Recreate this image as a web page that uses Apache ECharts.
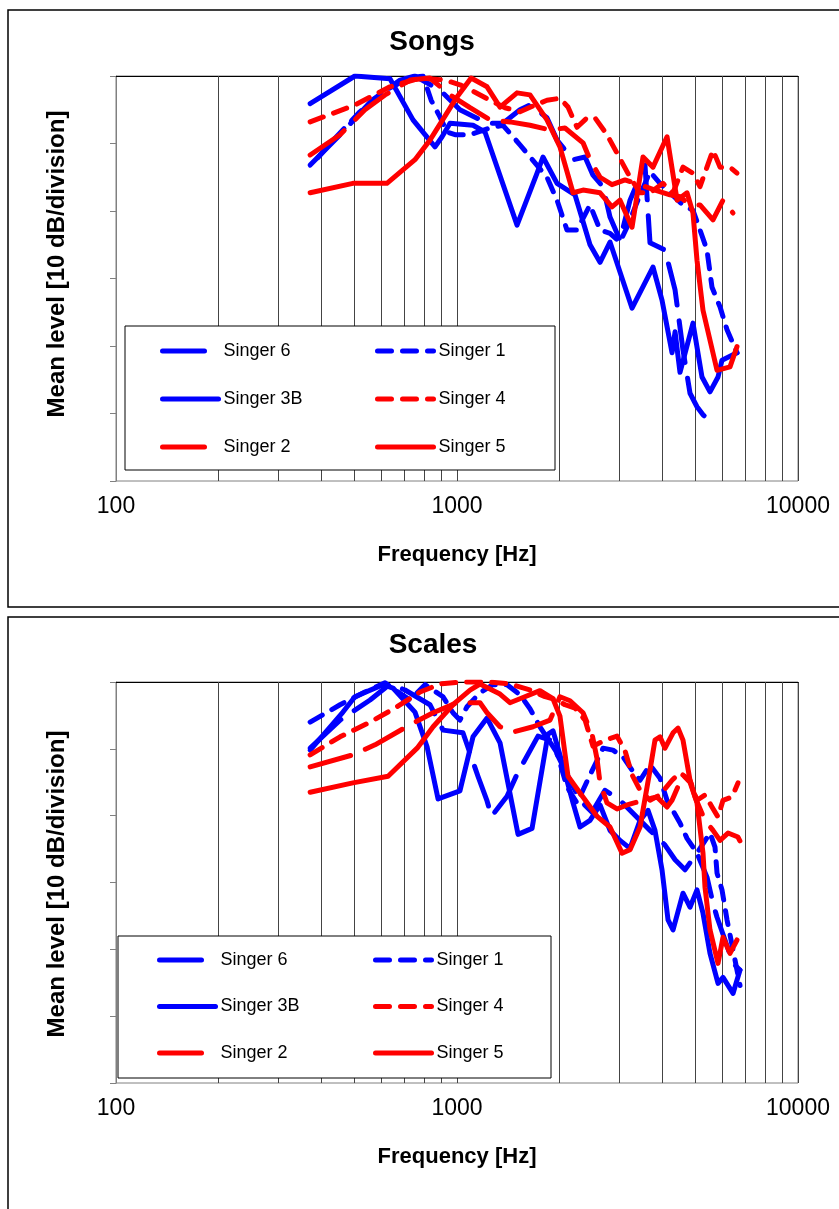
<!DOCTYPE html>
<html>
<head>
<meta charset="utf-8">
<script src="https://cdn.jsdelivr.net/npm/echarts@6/dist/echarts.min.js"></script>
<style>
  html, body { margin: 0; padding: 0; background: #fff; }
  #main { width: 839px; height: 1209px; }
</style>
</head>
<body>
<div id="main"></div>
<script>
// frequencies (Hz) and mean levels (dB, 0 = top of plot)

// --- Songs ---
var songs6Hz = [371,454,563,681,753,892,1020,1225,1364,1530,1637,1836,1965,2189,2374,2505,2681,2810,3006,3217,3559,3681,4074,4360,4600,4823,5056,5265,5633];
var songs6dB = [-13.2,-8.7,-3.6,-0.6,0,-2.1,-5.0,-7.0,-7.0,-5.0,-4.3,-6.2,-9.5,-12.4,-12.0,-14.7,-16.4,-20.9,-24.3,-18.4,-13.2,-24.7,-25.8,-31.7,-40.6,-47.0,-49.0,-50.2,-51.4];

var songs1Hz = [391,439,519,615,728,795,840,892,935,987,1092,1250,1364,1530,1836,1965,2101,2249,2455,2627,2810,3006,3152,3442,3681,3938,4272,4600,4921,5159,5409,5595,5906,6193,6624];
var songs1dB = [-12.1,-9.2,-5.3,-2.1,-0.3,0,-3.6,-6.1,-8.3,-8.7,-8.7,-7.7,-7.3,-10.2,-15.0,-18.4,-22.8,-22.8,-19.1,-22.8,-23.3,-24.6,-22.4,-17.6,-14.2,-15.9,-17.6,-19.1,-19.9,-22.8,-25.8,-31.3,-34.2,-37.6,-41.0];

var songs3BHz = [371,502,636,743,862,904,954,1114,1208,1500,1717,1787,1965,2218,2455,2627,2810,3261,3756,3992,4272,4360,4508,4921,5230,5520,5827,5986,6624];
var songs3BdB = [-4.1,0,-0.4,-6.5,-10.5,-9.0,-7.0,-7.3,-8.3,-22.1,-14.4,-12.0,-15.9,-17.6,-25.0,-27.6,-24.6,-34.4,-28.3,-33.2,-41.0,-37.9,-43.9,-36.6,-44.6,-46.8,-44.6,-42.1,-41.0];

var songs4Hz = [371,502,636,779,922,1020,1129,1250,1383,1530,1694,1836,2004,2116,2249,2406,2539,2754,2966,3217,3442,3681,4019,4301,4600,4921,5159,5633,5906,6318,6624];
var songs4dB = [-6.8,-4.3,-1.6,-0.3,-0.6,-1.3,-2.4,-3.6,-4.7,-5.3,-4.3,-3.6,-3.3,-4.6,-7.6,-6.2,-6.2,-8.7,-11.7,-15.0,-17.3,-17.3,-15.9,-17.3,-13.5,-14.4,-16.4,-11.0,-13.5,-13.5,-14.4];

var songs2Hz = [371,454,537,615,728,833,954,1092,1250,1430,1637,1874,2073,2342,2455,2627,2848,3110,3442,3807,4214,4508,4823,5159,5633,6027,6448];
var songs2dB = [-11.7,-8.7,-5.0,-2.8,-0.6,-0.3,-2.8,-4.7,-6.5,-6.8,-7.3,-8.0,-7.7,-9.9,-12.4,-15.0,-16.1,-15.4,-16.1,-16.9,-17.6,-17.9,-19.1,-19.1,-21.3,-18.4,-20.3];

var songs5Hz = [371,495,623,753,833,1000,1100,1225,1337,1500,1637,1836,2004,2189,2342,2627,2848,3006,3261,3512,3756,4130,4419,4726,4921,5056,5265,5788,6318,6624];
var songs5dB = [-17.3,-15.9,-15.9,-12.4,-9.5,-3.1,-0.3,-1.6,-4.6,-2.5,-2.8,-6.5,-10.5,-17.3,-16.9,-17.3,-19.4,-18.4,-22.4,-12.0,-13.5,-9.0,-18.4,-17.3,-20.3,-27.3,-34.7,-43.6,-43.1,-40.1];

// --- Scales ---
var scales6Hz = [371,454,556,636,704,833,910,1041,1152,1225,1262,1402,1500,1728,1874,2073,2295,2489,2716,3006,3681,4074,4360,4663,5056,5409,5633,5788,6109,6448,6760];
var scales6dB = [-9.9,-5.7,-2.7,-0.3,-1.2,-3.4,-7.2,-7.6,-14.1,-17.8,-20.1,-17.1,-13.8,-8.1,-8.7,-13.2,-17.7,-19.5,-16.2,-17.7,-22.2,-24.4,-26.6,-28.1,-25.6,-29.2,-33.1,-35.2,-38.6,-42.1,-43.1];

var scales1Hz = [371,454,537,615,658,728,806,910,973,1020,1070,1168,1275,1402,1530,1637,1751,1965,2101,2249,2455,2681,2867,3068,3261,3442,3681,3938,4130,4508,4726,5056,5520,5710,5788,5986,6193,6448,6760];
var scales1dB = [-6.0,-3.4,-1.5,-0.1,-1.2,-2.7,-0.4,-2.2,-4.6,-5.7,-3.7,-1.6,-0.4,-0.4,-1.9,-4.0,-6.7,-10.6,-15.7,-18.1,-13.9,-9.9,-10.2,-11.2,-13.2,-14.7,-12.4,-14.4,-17.7,-21.1,-23.4,-25.6,-22.6,-24.7,-28.6,-31.1,-35.6,-40.1,-45.4];

var scales3BHz = [371,463,502,607,649,753,817,880,1020,1114,1225,1337,1510,1660,1849,1912,2004,2189,2295,2455,2627,2810,3006,3217,3442,3632,3807,3992,4158,4301,4600,4823,5056,5265,5520,5827,6027,6448,6760];
var scales3BdB = [-10.2,-4.5,-2.2,-0.4,-0.9,-4.5,-9.7,-17.5,-16.3,-8.2,-5.4,-9.1,-22.8,-21.9,-7.8,-7.3,-10.9,-18.1,-21.7,-20.7,-18.4,-22.2,-23.7,-24.9,-20.7,-19.2,-22.2,-28.1,-35.6,-37.1,-31.6,-33.7,-31.1,-34.6,-40.6,-45.1,-44.2,-46.6,-43.1];

var scales4Hz = [371,454,556,658,779,892,1020,1250,1430,1637,1812,1965,2073,2218,2374,2505,2716,2946,3110,3261,3442,3681,3938,4272,4508,4823,5056,5337,5595,5827,6027,6405,6668];
var scales4dB = [-10.9,-8.2,-6.0,-3.9,-1.5,-0.3,0,0,-0.3,-1.2,-2.2,-2.7,-3.4,-3.9,-5.7,-9.6,-8.7,-8.1,-10.3,-13.9,-16.2,-17.7,-16.9,-14.7,-13.6,-14.7,-17.7,-16.9,-18.7,-20.2,-17.7,-17.2,-15.1];

var scales2Hz = [371,495,575,728,851,1000,1168,1225,1337,1460,1671,1874,2004,2145,2342,2489,2574,2627,2754,2946,3152,3512,3859,4130,4272,4600,4823,4988,5337,5633,5906,6234,6668,6853];
var scales2dB = [-12.7,-10.9,-9.4,-6.4,-4.6,-3.1,-3.1,-4.6,-6.7,-7.5,-6.7,-5.7,-2.2,-2.8,-4.6,-7.8,-11.5,-15.1,-18.1,-19.0,-18.4,-17.7,-17.2,-18.7,-17.7,-13.9,-15.0,-17.2,-20.7,-22.2,-23.7,-22.6,-23.2,-24.4];

var scales5Hz = [371,495,628,764,851,973,1092,1168,1337,1430,1530,1751,1912,2004,2116,2295,2574,2810,3048,3217,3442,3681,3807,3938,4074,4301,4449,4600,4823,5056,5265,5337,5520,5827,6027,6318,6624];
var scales5dB = [-16.5,-15.1,-14.1,-9.9,-6.7,-3.4,-1.2,-0.3,-1.8,-3.1,-2.5,-1.3,-2.5,-5.1,-14.1,-16.6,-20.1,-21.7,-25.6,-25.1,-21.7,-13.2,-8.7,-8.2,-9.9,-7.6,-6.9,-8.7,-14.7,-18.1,-25.6,-30.7,-37.1,-42.1,-38.2,-40.6,-38.6];

// vertical grid lines between decades
var gridHz = [200,300,400,500,600,700,800,900,2000,3000,4000,5000,6000,7000,8000,9000];
var xTicks = [100, 1000, 10000];

var FONT = '"Liberation Sans", Arial, sans-serif';
var BLUE = '#0000ff', RED = '#ff0000';

// line look of each singer (same in both panels)
var looks = {
  'Singer 6':  { color: BLUE, type: [42, 16] },
  'Singer 1':  { color: BLUE, type: [14, 11] },
  'Singer 3B': { color: BLUE, type: 'solid' },
  'Singer 4':  { color: RED,  type: [14, 11] },
  'Singer 2':  { color: RED,  type: [42, 16] },
  'Singer 5':  { color: RED,  type: 'solid' }
};

function pairs(hz, db) {
  return hz.map(function (f, i) { return [f, db[i]]; });
}

function line(name, idx, hz, db) {
  var l = looks[name];
  return {
    name: name,
    type: 'line',
    xAxisIndex: idx,
    yAxisIndex: idx,
    data: pairs(hz, db),
    symbol: 'none',
    z: 2,
    color: l.color,
    lineStyle: { color: l.color, width: 5, type: l.type, cap: 'round', join: 'round' }
  };
}

function gridLines(idx) {
  return {
    name: 'grid' + idx,
    type: 'line',
    xAxisIndex: idx,
    yAxisIndex: idx,
    data: [],
    silent: true,
    z: 1,
    markLine: {
      silent: true,
      z: 1,
      symbol: ['none', 'none'],
      label: { show: false },
      lineStyle: { color: '#444', width: 1, type: 'solid' },
      data: gridHz.map(function (f) { return { xAxis: f }; })
    }
  };
}

function xAxisFor(idx) {
  return {
    type: 'log',
    gridIndex: idx,
    logBase: 10,
    min: 100,
    max: 10000,
    axisLine: { lineStyle: { color: '#000', width: 1 } },
    axisTick: { show: false },
    axisLabel: {
      fontSize: 23, color: '#000', fontFamily: FONT, margin: 14,
      customValues: xTicks,
      formatter: function (v) { return String(Math.round(v)); }
    },
    splitLine: { show: true, lineStyle: { color: '#444', width: 1 } },
    name: 'Frequency [Hz]',
    nameLocation: 'middle',
    nameGap: 63,
    nameTextStyle: { fontSize: 22, fontWeight: 'bold', color: '#000', fontFamily: FONT }
  };
}

function yAxisFor(idx) {
  return {
    type: 'value',
    gridIndex: idx,
    min: -60,
    max: 0,
    interval: 10,
    axisLabel: { show: false },
    axisTick: { show: true, length: 6, lineStyle: { color: '#808080' } },
    axisLine: { show: true, lineStyle: { color: '#808080' } },
    splitLine: { show: false }
  };
}

function legendFor(names, left, top, gap) {
  return {
    data: names,
    orient: 'vertical',
    left: left,
    top: top,
    padding: 0,
    itemWidth: 56,
    itemHeight: 20,
    itemGap: gap,
    selectedMode: false,
    z: 5,
    // hide the default circle marker, keep just the line sample
    itemStyle: { opacity: 0, color: 'rgba(0,0,0,0)', borderWidth: 0 },
    lineStyle: { width: 5, cap: 'round' },
    textStyle: { fontSize: 18, color: '#000', fontFamily: FONT, lineHeight: 20 }
  };
}

function textEl(text, x, y, size, rot) {
  return {
    type: 'text', x: x, y: y, rotation: rot || 0, z: 5,
    style: { text: text, fontSize: size, fontWeight: 'bold', fontFamily: FONT, fill: '#000', align: 'center', verticalAlign: 'middle' }
  };
}

var chart = echarts.init(document.getElementById('main'));

var option = {
  animation: false,
  backgroundColor: '#fff',
  grid: [
    { left: 116, top: 76, width: 682, height: 405, show: true, borderColor: '#808080', borderWidth: 1, backgroundColor: 'transparent' },
    { left: 116, top: 682, width: 682, height: 401, show: true, borderColor: '#808080', borderWidth: 1, backgroundColor: 'transparent' }
  ],
  xAxis: [xAxisFor(0), xAxisFor(1)],
  yAxis: [yAxisFor(0), yAxisFor(1)],
  legend: [
    legendFor(['Singer 6', 'Singer 3B', 'Singer 2'], 160, 341, 28),
    legendFor(['Singer 1', 'Singer 4', 'Singer 5'], 375, 341, 28),
    legendFor(['Singer 6', 'Singer 3B', 'Singer 2'], 157, 950, 26.5),
    legendFor(['Singer 1', 'Singer 4', 'Singer 5'], 373, 950, 26.5)
  ],
  graphic: [
    { type: 'rect', z: 0, shape: { x: 8, y: 10, width: 840, height: 597 }, style: { fill: 'none', stroke: '#000', lineWidth: 1.5 } },
    { type: 'rect', z: 0, shape: { x: 8, y: 617, width: 840, height: 600 }, style: { fill: 'none', stroke: '#000', lineWidth: 1.5 } },
    { type: 'rect', z: 3, shape: { x: 125, y: 326, width: 430, height: 144 }, style: { fill: '#fff', stroke: '#000', lineWidth: 1 } },
    { type: 'rect', z: 3, shape: { x: 118, y: 936, width: 433, height: 142 }, style: { fill: '#fff', stroke: '#000', lineWidth: 1 } },
    textEl('Songs', 432, 42, 28),
    textEl('Scales', 433, 645, 28),
    textEl('Mean level [10 dB/division]', 57, 264, 24, Math.PI / 2),
    textEl('Mean level [10 dB/division]', 57, 884, 24, Math.PI / 2)
  ],
  series: [
    gridLines(0),
    gridLines(1),
    line('Singer 6', 0, songs6Hz, songs6dB),
    line('Singer 1', 0, songs1Hz, songs1dB),
    line('Singer 3B', 0, songs3BHz, songs3BdB),
    line('Singer 4', 0, songs4Hz, songs4dB),
    line('Singer 2', 0, songs2Hz, songs2dB),
    line('Singer 5', 0, songs5Hz, songs5dB),
    line('Singer 6', 1, scales6Hz, scales6dB),
    line('Singer 1', 1, scales1Hz, scales1dB),
    line('Singer 3B', 1, scales3BHz, scales3BdB),
    line('Singer 4', 1, scales4Hz, scales4dB),
    line('Singer 2', 1, scales2Hz, scales2dB),
    line('Singer 5', 1, scales5Hz, scales5dB)
  ]
};

chart.setOption(option);
</script>
</body>
</html>
